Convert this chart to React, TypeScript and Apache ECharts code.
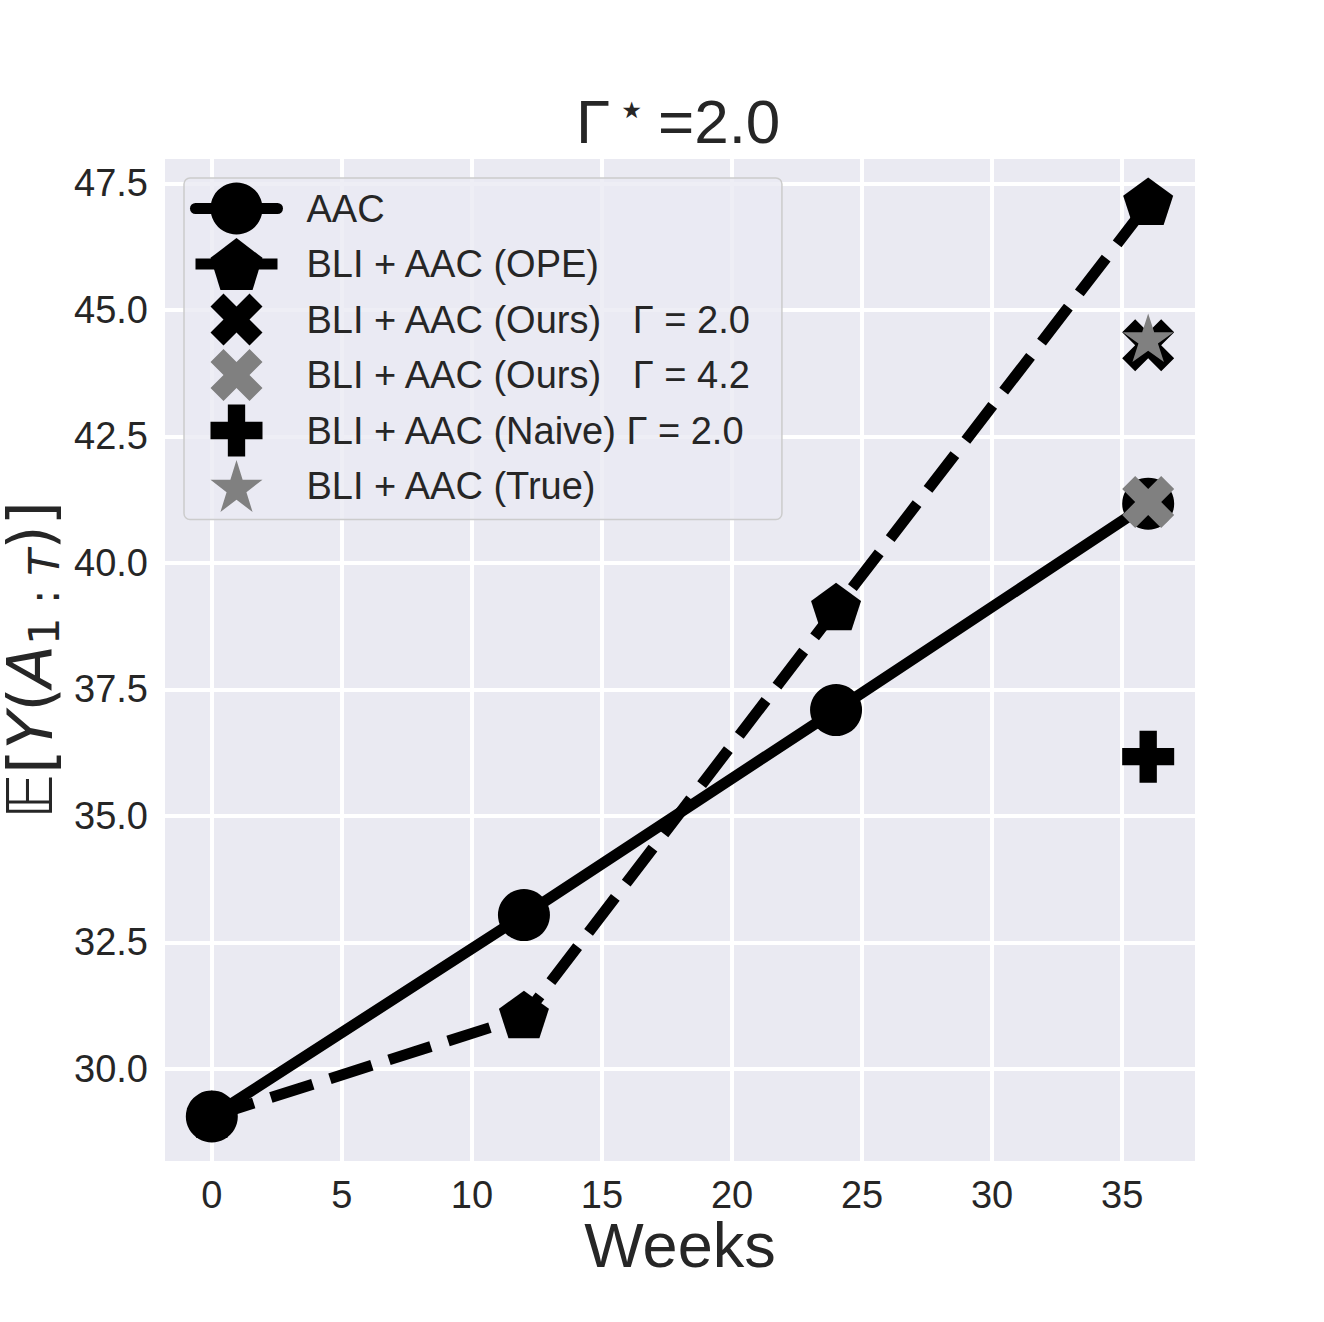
import React, { useEffect, useRef } from "react";
import * as echarts from "echarts";

// ---- data ----
const weeks = [0, 12, 24, 36];
const aacValues = [29.06, 33.04, 37.09, 41.17];
const opeValues = [29.06, 31.03, 39.09, 47.1];
const oursG2Weeks = [36];
const oursG2Values = [44.3];
const oursG42Weeks = [36];
const oursG42Values = [41.2];
const naiveWeeks = [36];
const naiveValues = [36.17];
const trueWeeks = [36];
const trueValues = [44.4];

const xTicks = [0, 5, 10, 15, 20, 25, 30, 35];
const yTicks = [30, 32.5, 35, 37.5, 40, 42.5, 45, 47.5];

const NAME_AAC = "AAC";
const NAME_OPE = "BLI + AAC (OPE)";
const NAME_OURS2 = "BLI + AAC (Ours)\u00a0\u00a0\u00a0Γ = 2.0";
const NAME_OURS42 = "BLI + AAC (Ours)\u00a0\u00a0\u00a0Γ = 4.2";
const NAME_NAIVE = "BLI + AAC (Naive) Γ = 2.0";
const NAME_TRUE = "BLI + AAC (True)";

// ---- symbols (matplotlib-like markers) ----
const PENTAGON = "path://M0,-1L0.9511,-0.309L0.5878,0.809L-0.5878,0.809L-0.9511,-0.309Z";
const XFILLED = "path://M-1,-2L0,-1L1,-2L2,-1L1,0L2,1L1,2L0,1L-1,2L-2,1L-1,0L-2,-1Z";
const PLUSFILLED = "path://M-1,-3L1,-3L1,-1L3,-1L3,1L1,1L1,3L-1,3L-1,1L-3,1L-3,-1L-1,-1Z";
const STAR =
  "path://M0,-1L0.2245,-0.309L0.9511,-0.309L0.3633,0.118L0.5878,0.809L0,0.382L-0.5878,0.809L-0.3633,0.118L-0.9511,-0.309L-0.2245,-0.309Z";

const TEXT = "#262626";
const FONT = "Liberation Sans, Arial, sans-serif";
const MATH = "DejaVu Sans";

const pairs = (xs: number[], ys: number[]) => xs.map((x, i) => [x, ys[i]]);

const hiddenLine = { width: 0, opacity: 0, color: "rgba(0,0,0,0)" };

export default function App() {
  const ref = useRef<HTMLDivElement>(null);
  useEffect(() => {
    if (!ref.current) return;
    const chart = echarts.init(ref.current, undefined, { renderer: "svg" });
    chart.setOption({
      animation: false,
      backgroundColor: "#ffffff",
      title: {
        text: "{g|Γ}{s|⋆}{h|=2.0}",
        left: 576,
        top: 86,
        padding: 0,
        textStyle: {
          fontWeight: "normal",
          rich: {
            g: { fontSize: 62, fontFamily: FONT, color: TEXT, fontWeight: "normal" },
            h: { fontSize: 62, fontFamily: FONT, color: TEXT, fontWeight: "normal", padding: [0, 0, 0, 12] },
            s: { fontSize: 46, fontFamily: MATH, color: TEXT, fontWeight: "normal", padding: [0, 0, 24, 7] },
          },
        },
      },
      grid: {
        left: 165,
        top: 159,
        width: 1030,
        height: 1002,
        show: true,
        backgroundColor: "#EAEAF2",
        borderWidth: 0,
        containLabel: false,
        outerBoundsMode: "none",
      },
      legend: {
        orient: "vertical",
        left: 184,
        top: 178,
        itemWidth: 82,
        itemHeight: 65,
        itemGap: 3.5,
        padding: [4.5, 30, 7.5, 6],
        backgroundColor: "rgba(234,234,242,0.8)",
        borderColor: "#cccccc",
        borderWidth: 1.5,
        borderRadius: 6,
        selectedMode: false,
        lineStyle: { width: "inherit" },
        data: [NAME_AAC, NAME_OPE, NAME_OURS2, NAME_OURS42, NAME_NAIVE, NAME_TRUE],
        formatter: (n: string) => "{t|" + n + "}",
        textStyle: {
          fontSize: 38,
          fontFamily: FONT,
          color: TEXT,
          rich: {
            t: { fontSize: 38, fontFamily: FONT, color: TEXT, padding: [0, 0, 0, 24] },
          },
        },
      },
      xAxis: {
        type: "value",
        min: -1.8,
        max: 37.8,
        name: "Weeks",
        nameLocation: "middle",
        nameGap: 52,
        nameMoveOverlap: false,
        nameTextStyle: { fontSize: 63, fontFamily: FONT, color: TEXT },
        axisLine: { show: false },
        axisTick: { show: false, customValues: xTicks },
        axisLabel: {
          customValues: xTicks,
          fontSize: 38,
          fontFamily: FONT,
          color: TEXT,
          margin: 15,
        },
        splitLine: { show: true, lineStyle: { color: "#ffffff", width: 4 } },
      },
      yAxis: {
        type: "value",
        min: 28.18,
        max: 47.98,
        name: "{e|𝔼}{n|[}{i|Y}{n|(}{i|A}{s|1 : }{si|T}{n|)]}",
        nameLocation: "middle",
        nameRotate: 90,
        nameGap: 100,
        nameMoveOverlap: false,
        nameTextStyle: {
          fontSize: 62,
          fontFamily: MATH,
          color: TEXT,
          rich: {
            e: { fontSize: 62, fontFamily: MATH, color: TEXT },
            n: { fontSize: 62, fontFamily: MATH, color: TEXT },
            i: { fontSize: 62, fontFamily: MATH, fontStyle: "italic", color: TEXT },
            s: { fontSize: 43, fontFamily: MATH, color: TEXT, padding: [26, 0, 0, 0] },
            si: { fontSize: 43, fontFamily: MATH, fontStyle: "italic", color: TEXT, padding: [26, 0, 0, 0] },
          },
        },
        axisLine: { show: false },
        axisTick: { show: false, customValues: yTicks },
        axisLabel: {
          customValues: yTicks,
          formatter: (v: number) => v.toFixed(1),
          fontSize: 38,
          fontFamily: FONT,
          color: TEXT,
          margin: 17,
        },
        splitLine: { show: true, lineStyle: { color: "#ffffff", width: 4 } },
      },
      series: [
        {
          name: NAME_OPE,
          type: "line",
          z: 2,
          data: pairs(weeks, opeValues),
          symbol: PENTAGON,
          symbolSize: [50, 47.5],
          symbolOffset: [0, -2.3],
          showAllSymbol: true,
          itemStyle: { color: "#000000" },
          lineStyle: { color: "#000000", width: 11, type: [44, 18] },
          clip: false,
        },
        {
          name: NAME_AAC,
          type: "line",
          z: 3,
          data: pairs(weeks, aacValues),
          symbol: "circle",
          symbolSize: 52,
          showAllSymbol: true,
          itemStyle: { color: "#000000" },
          lineStyle: { color: "#000000", width: 11, cap: "round" },
          clip: false,
        },
        {
          name: NAME_OURS2,
          type: "line",
          z: 4,
          data: pairs(oursG2Weeks, oursG2Values),
          symbol: XFILLED,
          symbolSize: 52,
          itemStyle: { color: "#000000" },
          lineStyle: hiddenLine,
          clip: false,
        },
        {
          name: NAME_OURS42,
          type: "line",
          z: 5,
          data: pairs(oursG42Weeks, oursG42Values),
          symbol: XFILLED,
          symbolSize: 52,
          itemStyle: { color: "#808080" },
          lineStyle: hiddenLine,
          clip: false,
        },
        {
          name: NAME_NAIVE,
          type: "line",
          z: 5,
          data: pairs(naiveWeeks, naiveValues),
          symbol: PLUSFILLED,
          symbolSize: 52,
          itemStyle: { color: "#000000" },
          lineStyle: hiddenLine,
          clip: false,
        },
        {
          name: NAME_TRUE,
          type: "line",
          z: 6,
          data: pairs(trueWeeks, trueValues),
          symbol: STAR,
          symbolSize: [51, 48.5],
          symbolOffset: [0, -2.3],
          itemStyle: { color: "#808080" },
          lineStyle: hiddenLine,
          clip: false,
        },
      ],
    });
    return () => chart.dispose();
  }, []);
  return (
    <div
      ref={ref}
      style={{ position: "absolute", left: 0, top: 0, width: 1324, height: 1322 }}
    />
  );
}
